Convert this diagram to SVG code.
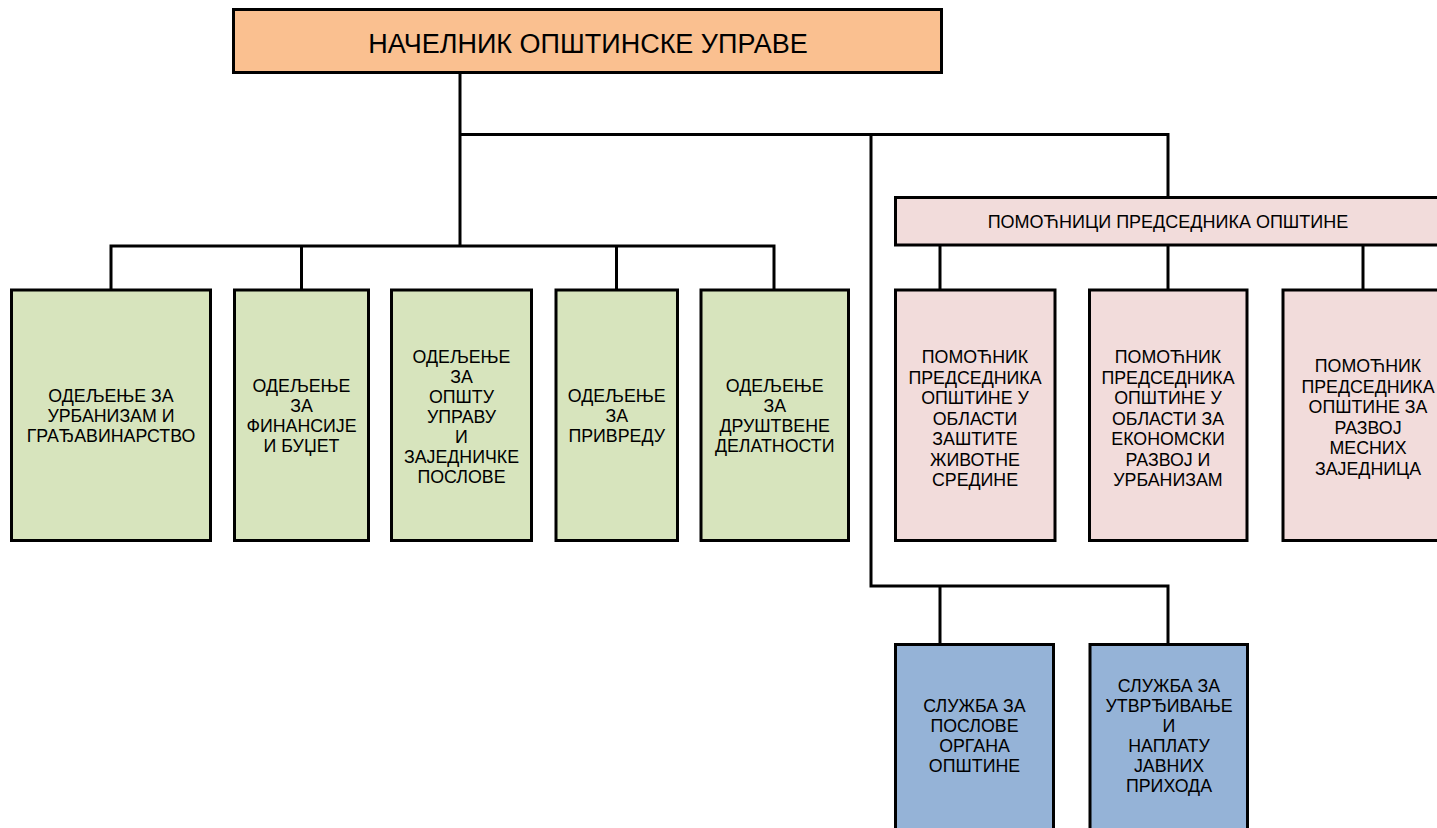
<svg xmlns="http://www.w3.org/2000/svg" width="1437" height="828" viewBox="0 0 1437 828">
<style>
.box{stroke:#000;stroke-width:3}
.top{fill:#FAC090}
.g{fill:#D7E4BD}
.p{fill:#F2DCDB}
.b{fill:#95B3D7}
.conn{fill:none;stroke:#000;stroke-width:3}
text{font-family:"Liberation Sans",Arial,sans-serif;fill:#000;text-anchor:middle}
.t{font-size:17.8px}
.h{font-size:18px}
.big{font-size:27px}
</style>
<rect width="1437" height="828" fill="#fff"/>
<g id="connectors" class="conn">
<path d="M460,72 V246"/>
<path d="M460,134.5 H1168 V197"/>
<path d="M871,134.5 V586 H1168 V644"/>
<path d="M940,586 V644"/>
<path d="M111,290 V246 H774 V290"/>
<path d="M301.5,246 V290"/>
<path d="M616.5,246 V290"/>
<path d="M940,245 V290"/>
<path d="M1168,245 V290"/>
<path d="M1363,245 V290"/>
</g>
<g id="n-nacelnik">
<rect class="box top" x="233.5" y="9.5" width="708" height="63"/>
<text class="big" x="588" y="53">НАЧЕЛНИК ОПШТИНСКЕ УПРАВЕ</text>
</g>
<g id="n-urbanizam">
<rect class="box g" x="11.5" y="290" width="199" height="250.5"/>
<text class="t" x="111" y="401.7">ОДЕЉЕЊЕ ЗА</text>
<text class="t" x="111" y="421.7">УРБАНИЗАМ И</text>
<text class="t" x="111" y="441.7">ГРАЂАВИНАРСТВО</text>
</g>
<g id="n-finansije">
<rect class="box g" x="234.5" y="290" width="134" height="250.5"/>
<text class="t" x="301.5" y="391.7">ОДЕЉЕЊЕ</text>
<text class="t" x="301.5" y="411.7">ЗА</text>
<text class="t" x="301.5" y="431.7">ФИНАНСИЈЕ</text>
<text class="t" x="301.5" y="451.7">И БУЏЕТ</text>
</g>
<g id="n-opsta">
<rect class="box g" x="391.5" y="290" width="140" height="250.5"/>
<text class="t" x="461.5" y="363">ОДЕЉЕЊЕ</text>
<text class="t" x="461.5" y="383">ЗА</text>
<text class="t" x="461.5" y="403">ОПШТУ</text>
<text class="t" x="461.5" y="423">УПРАВУ</text>
<text class="t" x="461.5" y="443">И</text>
<text class="t" x="461.5" y="463">ЗАЈЕДНИЧКЕ</text>
<text class="t" x="461.5" y="483">ПОСЛОВЕ</text>
</g>
<g id="n-privreda">
<rect class="box g" x="556" y="290" width="121.5" height="250.5"/>
<text class="t" x="616.7" y="401.7">ОДЕЉЕЊЕ</text>
<text class="t" x="616.7" y="421.7">ЗА</text>
<text class="t" x="616.7" y="441.7">ПРИВРЕДУ</text>
</g>
<g id="n-drustvene">
<rect class="box g" x="701" y="290" width="147.5" height="250.5"/>
<text class="t" x="774.7" y="391.7">ОДЕЉЕЊЕ</text>
<text class="t" x="774.7" y="411.7">ЗА</text>
<text class="t" x="774.7" y="431.7">ДРУШТВЕНЕ</text>
<text class="t" x="774.7" y="451.7">ДЕЛАТНОСТИ</text>
</g>
<g id="n-pomocnici">
<rect class="box p" x="895.5" y="197.5" width="560" height="47.5"/>
<text class="h" x="1168" y="227.5">ПОМОЋНИЦИ ПРЕДСЕДНИКА ОПШТИНЕ</text>
</g>
<g id="n-zastita">
<rect class="box p" x="895.5" y="290" width="159.5" height="250.5"/>
<text class="t" x="975" y="363">ПОМОЋНИК</text>
<text class="t" x="975" y="383.5">ПРЕДСЕДНИКА</text>
<text class="t" x="975" y="404">ОПШТИНЕ У</text>
<text class="t" x="975" y="424.5">ОБЛАСТИ</text>
<text class="t" x="975" y="445">ЗАШТИТЕ</text>
<text class="t" x="975" y="465.5">ЖИВОТНЕ</text>
<text class="t" x="975" y="486">СРЕДИНЕ</text>
</g>
<g id="n-ekonomski">
<rect class="box p" x="1089.5" y="290" width="157.5" height="250.5"/>
<text class="t" x="1168" y="363">ПОМОЋНИК</text>
<text class="t" x="1168" y="383.5">ПРЕДСЕДНИКА</text>
<text class="t" x="1168" y="404">ОПШТИНЕ У</text>
<text class="t" x="1168" y="424.5">ОБЛАСТИ ЗА</text>
<text class="t" x="1168" y="445">ЕКОНОМСКИ</text>
<text class="t" x="1168" y="465.5">РАЗВОЈ И</text>
<text class="t" x="1168" y="486">УРБАНИЗАМ</text>
</g>
<g id="n-mesne">
<rect class="box p" x="1283" y="290" width="170" height="250.5"/>
<text class="t" x="1368" y="372">ПОМОЋНИК</text>
<text class="t" x="1368" y="392.5">ПРЕДСЕДНИКА</text>
<text class="t" x="1368" y="413">ОПШТИНЕ ЗА</text>
<text class="t" x="1368" y="433.5">РАЗВОЈ</text>
<text class="t" x="1368" y="454">МЕСНИХ</text>
<text class="t" x="1368" y="474.5">ЗАЈЕДНИЦА</text>
</g>
<g id="n-organi">
<rect class="box b" x="895.5" y="644.5" width="158" height="195"/>
<text class="t" x="974.5" y="711.7">СЛУЖБА ЗА</text>
<text class="t" x="974.5" y="731.7">ПОСЛОВЕ</text>
<text class="t" x="974.5" y="751.7">ОРГАНА</text>
<text class="t" x="974.5" y="771.7">ОПШТИНЕ</text>
</g>
<g id="n-prihodi">
<rect class="box b" x="1090" y="644.5" width="157.5" height="195"/>
<text class="t" x="1169" y="691.7">СЛУЖБА ЗА</text>
<text class="t" x="1169" y="711.7">УТВРЂИВАЊЕ</text>
<text class="t" x="1169" y="731.7">И</text>
<text class="t" x="1169" y="751.7">НАПЛАТУ</text>
<text class="t" x="1169" y="771.7">ЈАВНИХ</text>
<text class="t" x="1169" y="791.7">ПРИХОДА</text>
</g>
</svg>
